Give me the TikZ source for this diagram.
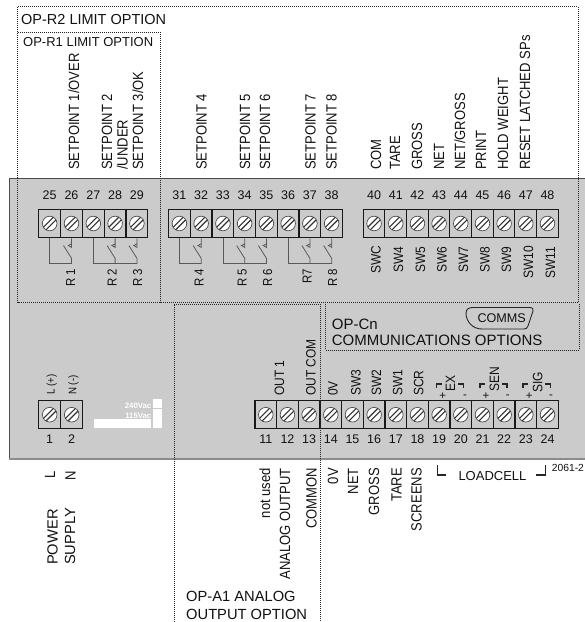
\documentclass[tikz,border=0pt]{standalone}
\usepackage{fontspec}
\setmainfont{Liberation Sans}
\newfontfamily\narrowfont[FakeStretch=0.88]{Liberation Sans}
\usetikzlibrary{positioning,calc}
\definecolor{panelgray}{HTML}{CBCBCB}
\definecolor{inkgray}{HTML}{111111}
\tikzset{
  cell/.style={draw=black!90,line width=1.1pt,fill=panelgray,minimum width=21.7pt,minimum height=28.4pt,inner sep=0pt,
    path picture={
      \coordinate (scr) at (path picture bounding box.center);
      \draw [fill=white,draw=black!70,line width=0.7pt] (scr) circle[radius=7.3pt];
      \draw [line width=1.1pt,draw=black!80] ($(scr)+(-6.3,3.7)$) -- ($(scr)+(3.7,-6.3)$);
      \draw [line width=1.1pt,draw=black!80] ($(scr)+(-3.7,6.3)$) -- ($(scr)+(6.3,-3.7)$);
    }},
  num/.style={inner sep=0pt,text=inkgray,font=\fontsize{12.5}{14}\selectfont},
  vlab/.style={rotate=90,anchor=west,inner sep=0pt,text height=10pt,text depth=0pt,text=inkgray,font=\narrowfont\fontsize{14.8}{17}\selectfont},
  vsmall/.style={vlab,font=\narrowfont\fontsize{13.6}{15}\selectfont},
  vtiny/.style={vlab,text height=8pt,font=\narrowfont\fontsize{11}{12}\selectfont},
  vdown/.style={vlab,anchor=east},
  hlab/.style={anchor=west,inner sep=0pt,text=inkgray,font=\fontsize{14.7}{17}\selectfont},
  optline/.style={dash pattern=on 1pt off 1pt,line width=1pt,draw=black!85},
  relay/.style={draw=black!65,line width=0.8pt},
  brk/.style={draw=black!85,line width=1.2pt},
  sign/.style={inner sep=0pt,text=inkgray,font=\fontsize{11.5}{12}\selectfont},
}
% one contact: blade and small triangle under a terminal
\newcommand{\contact}[1]{
  \coordinate (c#1) at ($(t#1.south)+(0,25.6)$);
  \coordinate (b#1) at ($(t#1.south)+(0,20)$);
  \coordinate (a#1) at ($(t#1.south)+(-8,7.3)$);
  \coordinate (s#1) at ($(t#1.south)+(0,7.3)$);
  \draw [relay] (c#1) -- (b#1) -- (a#1);
  \draw [relay] (t#1.south) -- (s#1) -- ++(0,-1.8) -- ++(-3.2,1.8) -- ++(3.2,1.8) -- cycle;
}
\begin{document}
\begin{tikzpicture}[x=1pt,y=-1pt]
\useasboundingbox (0,0) rectangle (585,622);

%panel
\fill [panelgray] (9,178.3) rectangle (585,459);
\draw [draw=black!70,line width=1pt] (585,178.3) -- (9,178.3) -- (9,459);
\draw [draw=black!45,line width=1.2pt] (9,459) -- (585,459);

%white marks
\fill [white] (94,419) rectangle (151,428.3);
\fill [white] (153.3,409) rectangle (162.3,428.3);
\fill [white] (153.3,399) rectangle (162.3,407.7);
\node [anchor=east,inner sep=0pt,text=white,font=\bfseries\fontsize{7.8}{9}\selectfont] (v240) at (151.5,405.5) {240Vac};
\node [anchor=east,inner sep=0pt,text=white,font=\bfseries\fontsize{7.8}{9}\selectfont] (v115) at (151.5,415.5) {115Vac};

%terminals top
\foreach \n [evaluate=\n as \cx using 49.7+21.8*(\n-25)] in {25,...,29}{
  \node [cell] (t\n) at (\cx,223.5) {};
  \node [num,above=8.8pt of t\n] (n\n) {\n};
}
\foreach \n [evaluate=\n as \cx using 179.4+21.75*(\n-31)] in {31,...,38}{
  \node [cell] (t\n) at (\cx,223.5) {};
  \node [num,above=8.8pt of t\n] (n\n) {\n};
}
\foreach \n [evaluate=\n as \cx using 374.1+21.67*(\n-40)] in {40,...,48}{
  \node [cell] (t\n) at (\cx,223.5) {};
  \node [num,above=8.8pt of t\n] (n\n) {\n};
}

%terminals bottom
\foreach \n [evaluate=\n as \cx using 49.7+22*(\n-1)] in {1,2}{
  \node [cell] (t\n) at (\cx,414.7) {};
  \node [num,below=4.8pt of t\n] (n\n) {\n};
}
\foreach \n [evaluate=\n as \cx using 265.8+21.67*(\n-11)] in {11,...,24}{
  \node [cell] (t\n) at (\cx,414.7) {};
  \node [num,below=4.8pt of t\n] (n\n) {\n};
}

%relays
\foreach \n in {26,28,29,32,34,35,37,38}{\contact{\n}}
\draw [relay] (t25.south) |- (c26);
\draw [relay] (t27.south) |- (c29);
\draw [relay] (t31.south) |- (c32);
\draw [relay] (t33.south) |- (c35);
\draw [relay] (t36.south) |- (c38);

%relay names
\foreach \x/\yb/\txt [count=\i] in {70.7/287/R 1,112/287/R 2,137.7/287/R 3,199/287/R 4,242/287/R 5,267.7/287/R 6,307/284/R7,332.7/287/R 8}{
  \node [vlab,text height=9pt,font=\narrowfont\fontsize{13}{15}\selectfont] (r\i) at (\x,\yb) {\txt};
}

%setpoints
\foreach \x/\txt [count=\i] in {74/{SETPOINT 1/OVER},107/SETPOINT 2,122.7/{/UNDER},138/{SETPOINT 3/OK},201.7/SETPOINT 4,245/SETPOINT 5,265/SETPOINT 6,310.5/SETPOINT 7,331.5/SETPOINT 8}{
  \node [vlab] (sp\i) at (\x,170) {\txt};
}

%inputs top
\foreach \x/\txt [count=\i] in {376/COM,395/TARE,417/GROSS,439/NET,460/{NET/GROSS},481/PRINT,503/HOLD WEIGHT,525/RESET LATCHED SPs}{
  \node [vlab] (in\i) at (\x,170) {\txt};
}

%switch names
\foreach \x/\yb/\txt [count=\i] in {375.7/274/SWC,398/272.5/SW4,420/272.5/SW5,441.7/272.5/SW6,463/272.5/SW7,484.5/272.5/SW8,506/272.5/SW9,528/279/SW10,550/279/SW11}{
  \node [vsmall] (sw\i) at (\x,\yb) {\txt};
}

%names above bottom terminals
\foreach \x/\txt [count=\i] in {279/OUT 1,310.7/OUT COM,332.7/0V,355.7/SW3,376/SW2,397.3/SW1,418.3/SCR}{
  \node [vsmall] (up\i) at (\x,396) {\txt};
}
\node [vtiny] (lplus) at (50.7,395) {L (+)};
\node [vtiny] (nminus) at (72.3,395) {N (-)};

%loadcell pairs
\node [vsmall] (ex) at (450,392) {EX};
\node [vsmall] (sen) at (494,392) {SEN};
\node [vsmall] (sig) at (537.3,393) {SIG};
\foreach \x/\nm in {442.7/a,486/b,529.3/c}{\node [sign] (plus\nm) at (\x,396.5) {+};}
\foreach \x/\nm in {465/a,507.7/b,551/c}{\node [sign] (minus\nm) at (\x,396.5) {-};}
\foreach \xa in {436.7,480,523}{
  \draw [brk] (\xa,388) -- (\xa,384) -- ++(5.3,0);
}
\foreach \xb in {463.3,507,550.5}{
  \draw [brk] (\xb,388) -- (\xb,384) -- ++(-5.3,0);
}

%under the panel
\node [vdown] (wl) at (50,471) {L};
\node [vdown] (wn) at (70.7,471) {N};
\node [vlab,text height=10pt,align=left,font=\fontsize{14.7}{17.5}\selectfont] (power) at (70,565) {POWER\\SUPPLY};
\foreach \x/\txt [count=\i] in {265/not used,285/ANALOG OUTPUT,311.7/COMMON,333/0V,353/NET,374/GROSS,396.7/TARE,416.7/SCREENS}{
  \node [vdown] (dn\i) at (\x,468) {\txt};
}

%loadcell
\node [hlab,font=\fontsize{13}{15}\selectfont] (load) at (458.3,476) {LOADCELL};
\draw [brk,line width=1.4pt] (437.3,465) -- (437.3,475) -- (446,475);
\draw [brk,line width=1.4pt] (536,475) -- (545.7,475) -- (545.7,465);
\node [hlab,font=\fontsize{10.3}{12}\selectfont] (code) at (551.7,468) {2061-2};

%options
\draw [optline] (17.5,178) -- (17.5,6.5) -- (578,6.5) -- (578,302.5) -- (17.5,302.5) -- (17.5,178);
\draw [optline] (17.5,32) -- (160,32) -- (160,302.5);
\draw [optline] (174,622) -- (174,304) -- (320,304) -- (320,622);
\draw [optline] (325.7,304) -- (325.7,350) -- (579,350) -- (579,304);
\node [hlab,font=\fontsize{14.5}{17}\selectfont] (optr2) at (21,20) {OP-R2 LIMIT OPTION};
\node [hlab,font=\fontsize{13}{15}\selectfont] (optr1) at (23,42) {OP-R1 LIMIT OPTION};
\node [hlab] (opta1) at (186,596) {OP-A1 ANALOG};
\node [hlab] (opta2) at (186,614) {OUTPUT OPTION};
\node [hlab,font=\fontsize{15}{17}\selectfont] (optc1) at (331.7,324) {OP-Cn};
\node [hlab,font=\fontsize{15}{17}\selectfont] (optc2) at (331.7,340.7) {COMMUNICATIONS OPTIONS};

%comms plug
\draw [draw=black!85,line width=0.9pt] (473,307.5) -- (529,307.5) .. controls (533,307.5) and (533.5,309) .. (533,311) -- (528,326) .. controls (527,328.5) and (526,329) .. (524,329) -- (482,329) .. controls (473,329) and (466,322) .. (466,313) .. controls (466,309) and (469,307.5) .. (473,307.5);
\node [num,font=\fontsize{12.6}{14}\selectfont] (comms) at (501.7,318) {COMMS};
\end{tikzpicture}
\end{document}
